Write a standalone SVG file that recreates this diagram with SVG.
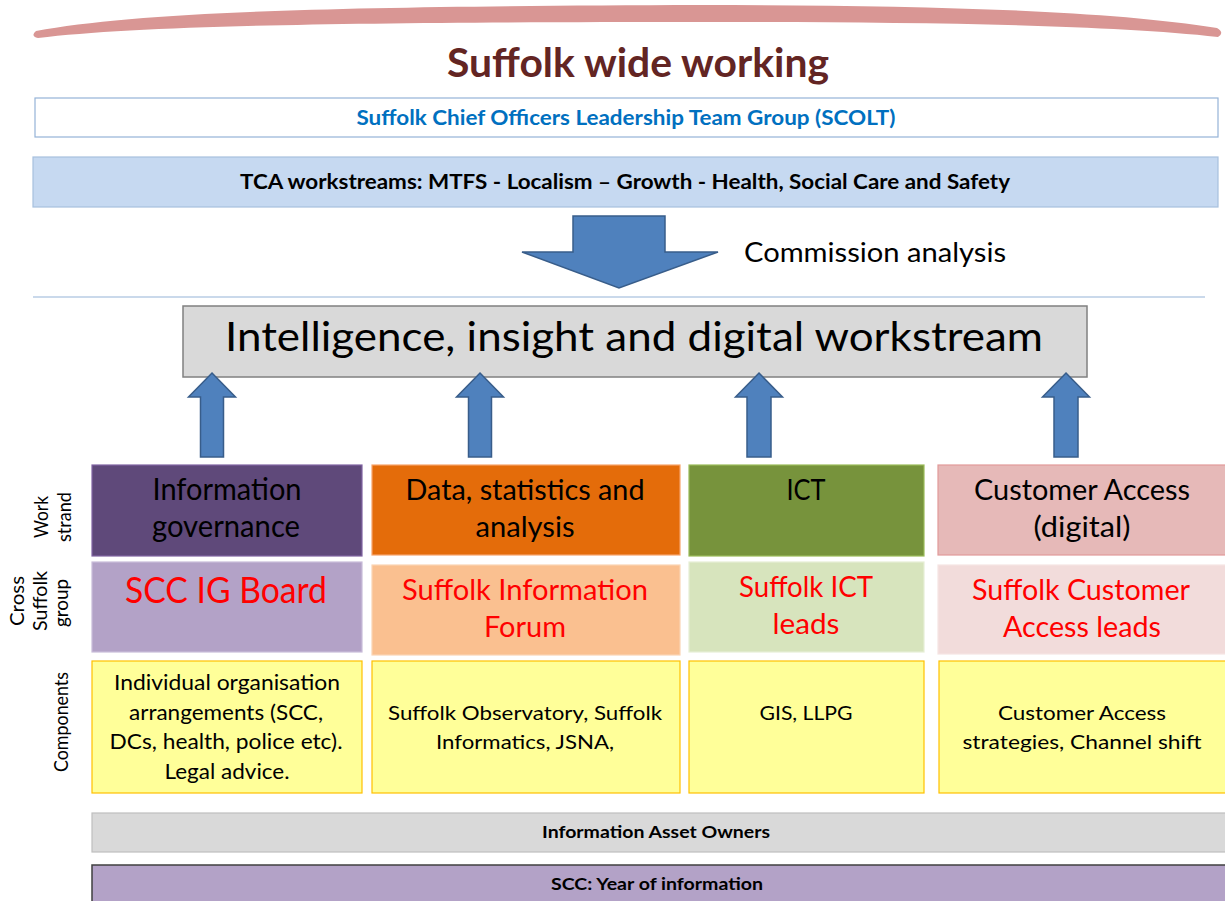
<svg xmlns="http://www.w3.org/2000/svg" width="1225" height="901" viewBox="0 0 1225 901">
<style>
text{font-family:"Lato","Open Sans","Liberation Sans",sans-serif;text-anchor:middle;fill:#000}
.b{font-weight:bold}
.red{fill:#ff0000}
.arrow{fill:#4f81bd;stroke:#385d8a;stroke-width:1.5}
.comp{fill:#ffff99;stroke:#ffc000;stroke-width:1.2}
.lab{font-size:19px}
</style>
<rect width="1225" height="901" fill="#ffffff"/>
<path d="M36,31 C150,9 400,6 700,5 C900,5 1100,9 1217,28 Q1225,33 1218,37 C1100,24 900,22 700,22 C400,22 150,24 38,38 Q30,36 36,31 Z" fill="#d99694"/>
<g id="title"><text class="b" x="638" y="77" font-size="40" style="fill:#632523" textLength="382" lengthAdjust="spacingAndGlyphs">Suffolk wide working</text></g>
<g id="scolt">
<rect x="35" y="98" width="1183" height="39" fill="#ffffff" stroke="#95b3d7" stroke-width="1.2"/>
<text class="b" x="626" y="125" font-size="20" style="fill:#0070c0" textLength="539" lengthAdjust="spacingAndGlyphs">Suffolk Chief Officers Leadership Team Group (SCOLT)</text>
</g>
<g id="tca">
<rect x="33" y="157" width="1185" height="50" fill="#c6d9f1" stroke="#a7c0de" stroke-width="1.2"/>
<text class="b" x="625" y="189" font-size="20" textLength="770" lengthAdjust="spacingAndGlyphs">TCA workstreams: MTFS - Localism – Growth - Health, Social Care and Safety</text>
</g>
<g id="commission-label"><text x="875" y="262" font-size="26" textLength="262" lengthAdjust="spacingAndGlyphs">Commission analysis</text></g>
<line x1="33" y1="297" x2="1205" y2="297" stroke="#95b3d7" stroke-width="1.2"/>
<g id="intelligence">
<rect x="183" y="306" width="904" height="71" fill="#d9d9d9" stroke="#808080" stroke-width="1.5"/>
<text x="634" y="351" font-size="40" textLength="818" lengthAdjust="spacingAndGlyphs">Intelligence, insight and digital workstream</text>
</g>
<g id="connectors">
<polygon class="arrow" points="573,216 665,216 665,252 718,252 619,288 522,252 573,252"/>
<polygon class="arrow" points="212,373 235.5,397 223.5,397 223.5,457 200.5,457 200.5,397 188.5,397"/>
<polygon class="arrow" points="480,373 503.5,397 491.5,397 491.5,457 468.5,457 468.5,397 456.5,397"/>
<polygon class="arrow" points="759,373 782.5,397 771,397 771,457 747,457 747,397 735.5,397"/>
<polygon class="arrow" points="1066,373 1089.5,397 1078,397 1078,457 1054,457 1054,397 1042.5,397"/>
</g>
<g id="row-labels">
<text class="lab" transform="translate(48,517) rotate(-90)" textLength="42" lengthAdjust="spacingAndGlyphs">Work</text>
<text class="lab" transform="translate(71,517) rotate(-90)" textLength="50" lengthAdjust="spacingAndGlyphs">strand</text>
<text class="lab" transform="translate(24,601) rotate(-90)" textLength="50" lengthAdjust="spacingAndGlyphs">Cross</text>
<text class="lab" transform="translate(47,601) rotate(-90)" textLength="60" lengthAdjust="spacingAndGlyphs">Suffolk</text>
<text class="lab" transform="translate(68,603) rotate(-90)" textLength="48" lengthAdjust="spacingAndGlyphs">group</text>
<text class="lab" transform="translate(68,722) rotate(-90)" textLength="100" lengthAdjust="spacingAndGlyphs">Components</text>
</g>
<g id="ig-strand">
<rect x="92" y="465" width="270" height="91" fill="#5f497a" stroke="#8064a2" stroke-width="1.2"/>
<text x="227" y="500" font-size="30" textLength="149" lengthAdjust="spacingAndGlyphs">Information</text>
<text x="226" y="537" font-size="30" textLength="148" lengthAdjust="spacingAndGlyphs">governance</text>
</g>
<g id="ig-group">
<rect x="92" y="562" width="270" height="90" fill="#b3a2c7" stroke="#c9bcd9" stroke-width="1.2"/>
<text class="red" x="226" y="603" font-size="36" textLength="202" lengthAdjust="spacingAndGlyphs">SCC IG Board</text>
</g>
<g id="ig-components">
<rect class="comp" x="92" y="661" width="270" height="132"/>
<text x="227" y="690" font-size="21" textLength="226" lengthAdjust="spacingAndGlyphs">Individual organisation</text>
<text x="226" y="720" font-size="21" textLength="194" lengthAdjust="spacingAndGlyphs">arrangements (SCC,</text>
<text x="226" y="749" font-size="21" textLength="233" lengthAdjust="spacingAndGlyphs">DCs, health, police etc).</text>
<text x="227" y="779" font-size="21" textLength="125" lengthAdjust="spacingAndGlyphs">Legal advice.</text>
</g>
<g id="data-strand">
<rect x="372" y="465" width="308" height="90" fill="#e46c0a" stroke="#f7a46b" stroke-width="1.2"/>
<text x="525" y="500" font-size="29" textLength="239" lengthAdjust="spacingAndGlyphs">Data, statistics and</text>
<text x="525" y="537" font-size="29" textLength="99" lengthAdjust="spacingAndGlyphs">analysis</text>
</g>
<g id="data-group">
<rect x="372" y="565" width="308" height="90" fill="#fac090" stroke="#fbd4b4" stroke-width="1.2"/>
<text class="red" x="525" y="600" font-size="29" textLength="246" lengthAdjust="spacingAndGlyphs">Suffolk Information</text>
<text class="red" x="525" y="637" font-size="29" textLength="82" lengthAdjust="spacingAndGlyphs">Forum</text>
</g>
<g id="data-components">
<rect class="comp" x="372" y="661" width="308" height="132"/>
<text x="525" y="720" font-size="20" textLength="274" lengthAdjust="spacingAndGlyphs">Suffolk Observatory, Suffolk</text>
<text x="525" y="749" font-size="20" textLength="178" lengthAdjust="spacingAndGlyphs">Informatics, JSNA,</text>
</g>
<g id="ict-strand">
<rect x="689" y="465" width="235" height="91" fill="#77933c" stroke="#9bbb59" stroke-width="1.2"/>
<text x="806" y="500" font-size="29" textLength="39" lengthAdjust="spacingAndGlyphs">ICT</text>
</g>
<g id="ict-group">
<rect x="689" y="562" width="235" height="90" fill="#d7e4bd" stroke="#e6eed5" stroke-width="1.2"/>
<text class="red" x="806" y="597" font-size="29" textLength="134" lengthAdjust="spacingAndGlyphs">Suffolk ICT</text>
<text class="red" x="806" y="634" font-size="29" textLength="67" lengthAdjust="spacingAndGlyphs">leads</text>
</g>
<g id="ict-components">
<rect class="comp" x="689" y="661" width="235" height="132"/>
<text x="806" y="720" font-size="20" textLength="93" lengthAdjust="spacingAndGlyphs">GIS, LLPG</text>
</g>
<g id="ca-strand">
<rect x="938" y="465" width="292" height="90" fill="#e6b9b8" stroke="#e29a99" stroke-width="1.2"/>
<text x="1082" y="500" font-size="29" textLength="216" lengthAdjust="spacingAndGlyphs">Customer Access</text>
<text x="1082" y="537" font-size="29" textLength="97" lengthAdjust="spacingAndGlyphs">(digital)</text>
</g>
<g id="ca-group">
<rect x="938" y="565" width="292" height="89" fill="#f2dcdb" stroke="#f5e4e3" stroke-width="1.2"/>
<text class="red" x="1081" y="600" font-size="29" textLength="218" lengthAdjust="spacingAndGlyphs">Suffolk Customer</text>
<text class="red" x="1082" y="637" font-size="29" textLength="158" lengthAdjust="spacingAndGlyphs">Access leads</text>
</g>
<g id="ca-components">
<rect class="comp" x="939" y="661" width="291" height="132"/>
<text x="1082" y="720" font-size="20" textLength="168" lengthAdjust="spacingAndGlyphs">Customer Access</text>
<text x="1082" y="749" font-size="20" textLength="239" lengthAdjust="spacingAndGlyphs">strategies, Channel shift</text>
</g>
<g id="asset-owners">
<rect x="92" y="813" width="1138" height="39" fill="#d9d9d9" stroke="#bfbfbf" stroke-width="1.2"/>
<text class="b" x="656" y="838" font-size="17" textLength="228" lengthAdjust="spacingAndGlyphs">Information Asset Owners</text>
</g>
<g id="year-of-information">
<rect x="92" y="865" width="1138" height="40" fill="#b3a2c7" stroke="#404040" stroke-width="1.5"/>
<text class="b" x="657" y="890" font-size="17" textLength="212" lengthAdjust="spacingAndGlyphs">SCC: Year of information</text>
</g>
</svg>
